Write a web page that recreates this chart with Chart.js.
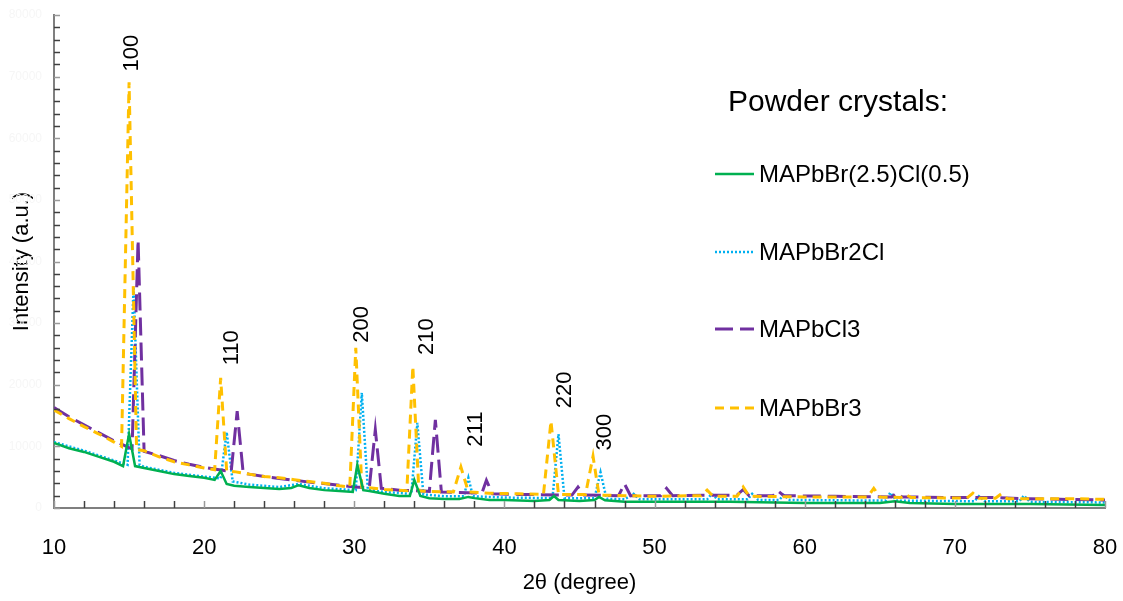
<!DOCTYPE html>
<html>
<head>
<meta charset="utf-8">
<script src="https://cdn.jsdelivr.net/npm/chart.js@4.4.1/dist/chart.umd.min.js"></script>
<style>
  html, body { margin: 0; padding: 0; background: #ffffff; }
  #wrap { width: 1123px; height: 601px; }
</style>
</head>
<body>
<div id="wrap"><canvas id="c" width="1123" height="601"></canvas></div>
<script>
// ---- Data (2θ in degrees, intensity in a.u.) ----
const seriesNames = ['MAPbBr(2.5)Cl(0.5)', 'MAPbBr2Cl', 'MAPbCl3', 'MAPbBr3'];

const greenX = [10, 11, 12, 13, 14, 14.6, 15.0, 15.4, 16, 17, 18, 19, 20, 20.7, 21.1, 21.5, 22, 23, 24, 25, 25.8, 26.3, 27, 28, 29, 29.9, 30.2, 30.6, 31, 32, 33, 33.7, 34.0, 34.4, 35, 36, 37, 37.6, 38, 39, 40, 42, 43.0, 43.3, 43.6, 45, 46.0, 46.3, 46.7, 48, 50, 55, 60, 65, 66, 67, 70, 75, 80];
const greenY = [10550, 9700, 9100, 8300, 7500, 6800, 12000, 6800, 6500, 6000, 5500, 5200, 4900, 4550, 6000, 3900, 3600, 3400, 3250, 3100, 3250, 3700, 3250, 2900, 2750, 2600, 7000, 2900, 2750, 2300, 1950, 1950, 4550, 1950, 1600, 1450, 1450, 1800, 1600, 1300, 1300, 1150, 1300, 1950, 1300, 1150, 1300, 1800, 1250, 1000, 1000, 1000, 800, 800, 1100, 800, 650, 650, 500];

const blueX = [10, 12, 14, 14.9, 15.3, 15.7, 16, 18, 20, 21.1, 21.5, 21.9, 23, 25, 26.3, 28, 30.1, 30.5, 30.9, 32, 33.8, 34.2, 34.6, 36, 37.3, 37.6, 37.9, 40, 43.2, 43.6, 44.0, 46.0, 46.4, 46.8, 48, 48.6, 49, 53.5, 53.8, 54.2, 56.2, 56.5, 56.9, 58.3, 58.6, 59, 65.4, 65.7, 66.1, 71.3, 71.6, 72, 74.3, 74.6, 75, 80];
const blueY = [10700, 9300, 7700, 7000, 35900, 7000, 6700, 5700, 5100, 4800, 12300, 4300, 3800, 3400, 3900, 3200, 2900, 18700, 3000, 2600, 2300, 13800, 2200, 1900, 1900, 4900, 1900, 1700, 1600, 12000, 1600, 1600, 5800, 1500, 1400, 2300, 1400, 1400, 2300, 1400, 1400, 2300, 1300, 1300, 2100, 1300, 1200, 2500, 1200, 1100, 1900, 1100, 1100, 2000, 1000, 900];

const purpleX = [10, 11, 12, 13, 14, 15.0, 15.2, 15.6, 16.0, 17, 18, 19, 20, 21, 21.8, 22.2, 22.6, 23, 24, 25, 27, 29, 30, 31.0, 31.4, 31.8, 33, 35.0, 35.4, 35.8, 37, 38.5, 38.8, 39.2, 41, 44.5, 44.9, 45.3, 47.6, 48.0, 48.4, 50.4, 50.8, 51.2, 55.5, 55.9, 56.3, 57.9, 58.2, 58.6, 62, 65.8, 66.1, 66.5, 70, 72.5, 75, 80];
const purpleY = [16300, 14800, 13500, 12200, 10900, 9800, 9600, 43500, 9200, 8500, 7700, 7100, 6600, 6200, 5900, 15700, 5700, 5500, 5100, 4800, 4200, 3700, 3400, 3300, 12700, 3200, 2900, 2700, 14300, 2600, 2500, 2400, 4500, 2300, 2200, 2100, 3400, 2100, 2000, 3900, 2000, 2000, 3200, 2000, 2100, 3000, 2000, 2000, 2800, 2000, 1900, 1800, 2400, 1800, 1700, 1700, 1500, 1300];

const orangeX = [10, 11, 12, 13, 14, 14.5, 15.0, 15.5, 16, 17, 18, 19, 20, 20.7, 21.1, 21.5, 22, 23, 24, 25, 26, 27, 28, 29, 29.7, 30.1, 30.5, 31, 32, 33.5, 33.9, 34.3, 35, 36.6, 37.1, 37.6, 39, 41, 42.6, 43.1, 43.6, 45.4, 45.9, 46.3, 48, 50, 53.1, 53.5, 53.9, 55.5, 55.9, 56.3, 60, 64.2, 64.6, 65.0, 66.4, 66.7, 67.1, 70.8, 71.2, 71.6, 72.7, 73.1, 73.5, 78, 80];
const orangeY = [15900, 14500, 13200, 12000, 10700, 10000, 69100, 9500, 9300, 8300, 7500, 7000, 6500, 6200, 21100, 6000, 5900, 5500, 5100, 4900, 4600, 4300, 4000, 3600, 3400, 26000, 3400, 3300, 3000, 2800, 23000, 2800, 2700, 2600, 6650, 2600, 2400, 2300, 2200, 14100, 2200, 2200, 8400, 2100, 2000, 1900, 2000, 2900, 1900, 1900, 3400, 1900, 1800, 1800, 3200, 1800, 1700, 2200, 1700, 1600, 2400, 1600, 1600, 2300, 1500, 1500, 1400];

const xTickValues = [10, 20, 30, 40, 50, 60, 70, 80];
const yTickValues = [0, 10000, 20000, 30000, 40000, 50000, 60000, 70000, 80000];

// Miller-index annotations (anchor in data coordinates)
const peakLabels = ['100', '110', '200', '210', '211', '220', '300'];
const peakLabelX = [15.2, 21.87, 30.53, 34.87, 38.07, 44.0, 46.67];
const peakLabelY = [73800, 26000, 29800, 27800, 12800, 19150, 12300];

// ---- Build datasets ----
function pts(xs, ys) { return xs.map((x, i) => ({ x: x, y: ys[i] })); }

const styles = [
  { color: '#00B050', width: 2.5, dash: [] },
  { color: '#00B0F0', width: 2.5, dash: [2, 2] },
  { color: '#7030A0', width: 3, dash: [18, 7] },
  { color: '#FFC000', width: 3, dash: [9, 6] }
];
const allData = [pts(greenX, greenY), pts(blueX, blueY), pts(purpleX, purpleY), pts(orangeX, orangeY)];

const datasets = seriesNames.map((n, i) => ({
  label: n,
  data: allData[i],
  borderColor: styles[i].color,
  backgroundColor: styles[i].color,
  borderWidth: styles[i].width,
  borderDash: styles[i].dash,
  pointRadius: 0,
  tension: 0,
  fill: false,
  order: i === 0 ? 0 : 4 - i
}));

const FONT = 'Arial, "Liberation Sans", Helvetica, sans-serif';

// Inward tick marks
const tickPlugin = {
  id: 'inTicks',
  afterDatasetsDraw(chart) {
    const ctx = chart.ctx;
    const xs = chart.scales.x, ys = chart.scales.y;
    const area = chart.chartArea;
    ctx.save();
    ctx.lineWidth = 1.5;
    for (let v = 10; v <= 80; v += 2) {
      const px = Math.round(xs.getPixelForValue(v)) + 0.5;
      const major = v % 10 === 0;
      ctx.strokeStyle = major ? '#9a9a9a' : '#404040';
      ctx.beginPath();
      ctx.moveTo(px, area.bottom);
      ctx.lineTo(px, area.bottom - 7);
      ctx.stroke();
    }
    for (let v = 0; v <= 80000; v += 2000) {
      const py = Math.round(ys.getPixelForValue(v)) + 0.5;
      const major = v % 10000 === 0;
      ctx.strokeStyle = major ? '#9a9a9a' : '#404040';
      ctx.beginPath();
      ctx.moveTo(area.left, py);
      ctx.lineTo(area.left + 6, py);
      ctx.stroke();
    }
    ctx.restore();
  }
};

// Peak labels
const peakPlugin = {
  id: 'peaks',
  afterDatasetsDraw(chart) {
    const ctx = chart.ctx;
    const xs = chart.scales.x, ys = chart.scales.y;
    ctx.save();
    ctx.fillStyle = '#000000';
    ctx.font = '22px ' + FONT;
    ctx.textAlign = 'center';
    ctx.textBaseline = 'middle';
    peakLabels.forEach((t, i) => {
      const px = xs.getPixelForValue(peakLabelX[i]);
      const py = ys.getPixelForValue(peakLabelY[i]);
      ctx.save();
      ctx.translate(px, py);
      ctx.rotate(-Math.PI / 2);
      ctx.fillText(t, 0, 0);
      ctx.restore();
    });
    ctx.restore();
  }
};

// Legend drawn inside the plot
const legendPlugin = {
  id: 'inLegend',
  afterDraw(chart) {
    const ctx = chart.ctx;
    ctx.save();
    ctx.fillStyle = '#000000';
    ctx.textBaseline = 'middle';
    ctx.textAlign = 'left';
    ctx.font = '30px ' + FONT;
    ctx.fillText('Powder crystals:', 728, 103);
    const rows = [174, 252, 329, 408];
    ctx.font = '24px ' + FONT;
    chart.data.datasets.forEach((ds, i) => {
      const y = rows[i];
      ctx.save();
      ctx.strokeStyle = ds.borderColor;
      ctx.lineWidth = ds.borderWidth;
      ctx.setLineDash(ds.borderDash);
      ctx.beginPath();
      ctx.moveTo(715, y);
      ctx.lineTo(754, y);
      ctx.stroke();
      ctx.restore();
      ctx.fillText(ds.label, 759, y + 1);
    });
    ctx.restore();
  }
};

new Chart(document.getElementById('c'), {
  type: 'line',
  data: { datasets: datasets },
  options: {
    responsive: false,
    animation: false,
    devicePixelRatio: 1,
    layout: { padding: { top: 15, right: 18, left: 0, bottom: 0 } },
    plugins: { legend: { display: false }, tooltip: { enabled: false } },
    scales: {
      x: {
        type: 'linear',
        min: 10, max: 80,
        afterFit(s) { s.height = 93; s.paddingLeft = 0; s.paddingRight = 0; },
        afterBuildTicks(s) { s.ticks = xTickValues.map(v => ({ value: v })); },
        grid: { display: true, drawOnChartArea: false, drawTicks: false, color: 'rgba(0,0,0,0)' },
        border: { display: true, color: '#7f7f7f', width: 2 },
        ticks: { color: '#000000', font: { family: FONT, size: 22 }, padding: 27, maxRotation: 0, autoSkip: false },
        title: { display: true, text: '2θ (degree)', color: '#000000', font: { family: FONT, size: 22 }, padding: { top: 0, bottom: 5 } }
      },
      y: {
        type: 'linear',
        min: 0, max: 80000,
        afterFit(s) { s.width = 54; s.paddingTop = 0; s.paddingBottom = 0; },
        afterBuildTicks(s) { s.ticks = yTickValues.map(v => ({ value: v })); },
        grid: { display: true, drawOnChartArea: false, drawTicks: false, color: 'rgba(0,0,0,0)' },
        border: { display: true, color: '#7f7f7f', width: 2 },
        ticks: { color: '#f6f6f6', font: { family: FONT, size: 12 }, padding: 12, autoSkip: false, callback: v => String(v) },
        title: { display: true, text: 'Intensity (a.u.)', color: '#000000', font: { family: FONT, size: 22 }, padding: { top: 9, bottom: 0 } }
      }
    }
  },
  plugins: [tickPlugin, peakPlugin, legendPlugin]
});
</script>
</body>
</html>
